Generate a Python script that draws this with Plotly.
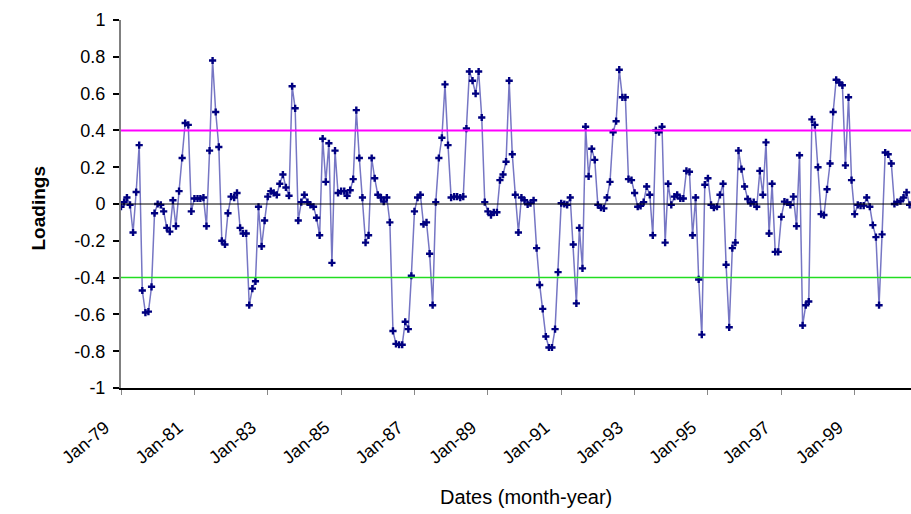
import plotly.graph_objects as go
import pandas as pd

# Monthly loadings (Jan-1979 onwards)
loadings_1979 = [-0.015, 0.01, 0.035, -0.005, -0.155, 0.065, 0.32, -0.47, -0.59, -0.585, -0.45, -0.05]
loadings_1980 = [0.0, -0.005, -0.04, -0.13, -0.15, 0.02, -0.12, 0.07, 0.25, 0.44, 0.43, -0.04]
loadings_1981 = [0.03, 0.03, 0.03, 0.035, -0.12, 0.29, 0.78, 0.5, 0.31, -0.2, -0.22, -0.05]
loadings_1982 = [0.04, 0.035, 0.06, -0.13, -0.16, -0.16, -0.55, -0.46, -0.42, -0.015, -0.23, -0.09]
loadings_1983 = [0.04, 0.07, 0.06, 0.05, 0.11, 0.16, 0.09, 0.045, 0.64, 0.52, -0.09, 0.01]
loadings_1984 = [0.05, 0.01, -0.005, -0.015, -0.075, -0.17, 0.355, 0.12, 0.33, -0.32, 0.29, 0.06]
loadings_1985 = [0.07, 0.07, 0.045, 0.075, 0.135, 0.51, 0.25, 0.035, -0.21, -0.17, 0.25, 0.14]
loadings_1986 = [0.05, 0.035, 0.013, 0.035, -0.1, -0.69, -0.76, -0.765, -0.765, -0.64, -0.68, -0.39]
loadings_1987 = [-0.04, 0.035, 0.05, -0.11, -0.1, -0.27, -0.55, 0.01, 0.25, 0.36, 0.65, 0.32]
loadings_1988 = [0.035, 0.04, 0.04, 0.035, 0.04, 0.41, 0.72, 0.67, 0.60, 0.72, 0.47, 0.01]
loadings_1989 = [-0.04, -0.06, -0.045, -0.045, 0.13, 0.16, 0.23, 0.67, 0.27, 0.05, -0.155, 0.035]
loadings_1990 = [0.02, -0.002, 0.005, 0.02, -0.24, -0.44, -0.57, -0.72, -0.78, -0.78, -0.68, -0.37]
loadings_1991 = [0.004, 0.0, -0.005, 0.035, -0.22, -0.54, -0.13, -0.35, 0.42, 0.15, 0.30, 0.24]
loadings_1992 = [-0.005, -0.02, -0.024, 0.035, 0.12, 0.39, 0.45, 0.73, 0.58, 0.58, 0.135, 0.13]
loadings_1993 = [0.06, -0.015, -0.01, 0.01, 0.095, 0.05, -0.17, 0.40, 0.39, 0.42, -0.21, 0.11]
loadings_1994 = [-0.005, 0.04, 0.05, 0.03, 0.03, 0.18, 0.175, -0.17, 0.035, -0.41, -0.71, 0.105]
loadings_1995 = [0.14, -0.005, -0.02, -0.015, 0.05, 0.11, -0.33, -0.67, -0.24, -0.21, 0.29, 0.19]
loadings_1996 = [0.095, 0.027, 0.004, 0.01, -0.015, 0.18, 0.05, 0.335, -0.16, 0.11, -0.26, -0.26]
loadings_1997 = [-0.07, 0.013, 0.009, -0.005, 0.04, -0.12, 0.265, -0.66, -0.55, -0.53, 0.46, 0.43]
loadings_1998 = [0.2, -0.055, -0.06, 0.08, 0.22, 0.5, 0.675, 0.66, 0.645, 0.21, 0.58, 0.13]
loadings_1999 = [-0.055, -0.005, -0.009, -0.009, 0.035, -0.015, -0.115, -0.18, -0.55, -0.165, 0.28, 0.27]
loadings_2000 = [0.22, 0.0, 0.01, 0.015, 0.035, 0.063, -0.005]

values = (loadings_1979 + loadings_1980 + loadings_1981 + loadings_1982 + loadings_1983
          + loadings_1984 + loadings_1985 + loadings_1986 + loadings_1987 + loadings_1988
          + loadings_1989 + loadings_1990 + loadings_1991 + loadings_1992 + loadings_1993
          + loadings_1994 + loadings_1995 + loadings_1996 + loadings_1997 + loadings_1998
          + loadings_1999 + loadings_2000)
dates = pd.date_range("1979-01-01", periods=len(values), freq="MS")

x_tick_dates = ["1979-01-01", "1981-01-01", "1983-01-01", "1985-01-01", "1987-01-01", "1989-01-01",
                "1991-01-01", "1993-01-01", "1995-01-01", "1997-01-01", "1999-01-01"]
x_tick_labels = ["Jan-79", "Jan-81", "Jan-83", "Jan-85", "Jan-87", "Jan-89",
                 "Jan-91", "Jan-93", "Jan-95", "Jan-97", "Jan-99"]
y_tick_values = [-1, -0.8, -0.6, -0.4, -0.2, 0, 0.2, 0.4, 0.6, 0.8, 1]
y_tick_labels = ["-1", "-0.8", "-0.6", "-0.4", "-0.2", "0", "0.2", "0.4", "0.6", "0.8", "1"]
upper_threshold = 0.4
lower_threshold = -0.4
x_range = ["1979-01-01", "2000-07-15"]

FONT = "Liberation Sans, Arial, sans-serif"

fig = go.Figure()
fig.add_trace(go.Scatter(
    x=dates, y=values, mode="lines+markers",
    line=dict(color="#7676c4", width=1.5),
    marker=dict(symbol="cross", size=6, color="#000080", line=dict(width=0)),
    showlegend=False,
))

fig.add_shape(type="line", xref="paper", x0=0, x1=1, yref="y", y0=0, y1=0,
              line=dict(color="black", width=1), layer="above")
fig.add_shape(type="line", xref="paper", x0=0, x1=1, yref="y", y0=upper_threshold, y1=upper_threshold,
              line=dict(color="#ff00ff", width=2), layer="above")
fig.add_shape(type="line", xref="paper", x0=0, x1=1, yref="y", y0=lower_threshold, y1=lower_threshold,
              line=dict(color="#22dd22", width=1.5), layer="above")

fig.add_annotation(text="<b>Loadings</b>", xref="paper", yref="paper", x=0, y=0.5,
                   xshift=-96, yshift=-5, textangle=-90, showarrow=False,
                   font=dict(family=FONT, size=19, color="black"))
fig.add_annotation(text="Dates (month-year)", xref="paper", yref="paper", x=0.5, y=0,
                   xshift=10, yshift=-109, showarrow=False, yanchor="middle",
                   font=dict(family=FONT, size=20, color="black"))

fig.update_layout(
    width=911, height=514,
    margin=dict(l=121, r=0, t=20, b=126),
    paper_bgcolor="white", plot_bgcolor="white",
    font=dict(family=FONT, size=18, color="black"),
    xaxis=dict(
        type="date", range=x_range,
        tickmode="array", tickvals=x_tick_dates, ticktext=x_tick_labels,
        tickangle=-40, showline=True, linecolor="black", linewidth=2,
        ticks="outside", ticklen=5, tickcolor="#888888", tickwidth=1,
        showgrid=False, zeroline=False, tickfont=dict(size=18),
        ticklabelstandoff=15, ticklabelshift=-16,
    ),
    yaxis=dict(
        range=[-1, 1], tickmode="array", tickvals=y_tick_values, ticktext=y_tick_labels,
        showline=True, linecolor="#808080", linewidth=2,
        ticks="outside", ticklen=6, tickcolor="black", tickwidth=1.5,
        showgrid=False, zeroline=False, tickfont=dict(size=18),
        ticklabelstandoff=4,
    ),
)

fig.write_html("out.html")
